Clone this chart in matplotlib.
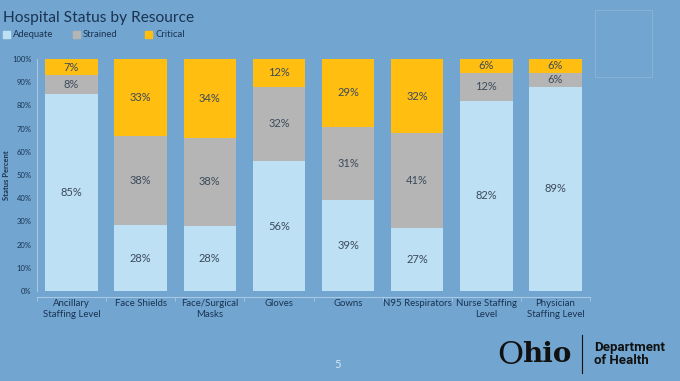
import matplotlib.pyplot as plt
import numpy as np
from matplotlib.patches import Rectangle
from matplotlib.lines import Line2D

categories = ['Ancillary\nStaffing Level', 'Face Shields', 'Face/Surgical\nMasks', 'Gloves',
              'Gowns', 'N95 Respirators', 'Nurse Staffing\nLevel', 'Physician\nStaffing Level']
adequate = [85, 28, 28, 56, 39, 27, 82, 89]
strained = [8, 38, 38, 32, 31, 41, 12, 6]
critical = [7, 33, 34, 12, 29, 32, 6, 6]
status_names = ['Adequate', 'Strained', 'Critical']
tick_labels = ['0%', '10%', '20%', '30%', '40%', '50%', '60%', '70%', '80%', '90%', '100%']

bg = '#72a5cf'
navy = '#1a3352'
label_col = '#3c4a5a'
colors = ['#bde0f4', '#b5b5b5', '#ffbe10']

plt.rcParams['font.family'] = ['Lato', 'DejaVu Sans']

fig = plt.figure(figsize=(6.8, 3.81), dpi=100, facecolor=bg)
W, H = 680, 381
ax = fig.add_axes([37 / W, 1 - 291 / H, (590 - 37) / W, (291 - 59) / H])
ax.set_facecolor(bg)

# spines first (set_position resets tick formatting)
for s in ['top', 'right']:
    ax.spines[s].set_visible(False)
ax.spines['bottom'].set_position(('outward', 4))
for s in ['left', 'bottom']:
    ax.spines[s].set_color('#a9c8e3')
    ax.spines[s].set_linewidth(0.8)

series = np.array([adequate, strained, critical], dtype=float)
totals = series.sum(axis=0)
pct = series / totals * 100
x = np.arange(len(categories))
bottom = np.zeros(len(categories))
for i in range(3):
    ax.bar(x, pct[i], 0.76, bottom=bottom, color=colors[i], linewidth=0)
    for j in range(len(categories)):
        ax.text(x[j], bottom[j] + pct[i][j] / 2, f'{int(series[i][j])}%',
                ha='center', va='center', fontsize=8, color=label_col)
    bottom += pct[i]

ax.set_xlim(-0.5, len(categories) - 0.5)
ax.set_ylim(0, 100)
ax.set_yticks(np.arange(0, 101, 10))
ax.set_yticklabels(tick_labels)
ax.set_xticks(x)
ax.set_xticklabels(categories, linespacing=1.35)
ax.tick_params(axis='y', length=0, pad=4, labelsize=5.5, labelcolor=navy)
ax.tick_params(axis='x', length=0, pad=1.5, labelsize=6.9, labelcolor=navy)
ax.set_xticks(np.arange(-0.5, len(categories)), minor=True)
ax.tick_params(axis='x', which='minor', length=3, color='#a9c8e3', width=0.6)
ax.set_ylabel('Status Percent', fontsize=5.5, color=navy, fontweight='bold')
ax.yaxis.set_label_coords(-27 / (590 - 37), 0.5)

# title and legend
fig.text(3 / W, 1 - 18 / H, 'Hospital Status by Resource', fontsize=11.2, color=navy,
         va='center', ha='left')
for k, (lx, name) in enumerate(zip([3, 73, 145], status_names)):
    fig.patches.append(Rectangle((lx / W, 1 - 37.5 / H), 6.5 / W, 6.5 / H,
                                 transform=fig.transFigure, color=colors[k]))
    fig.text((lx + 10) / W, 1 - 34.5 / H, name, fontsize=6.8, color=navy, va='center')

# decorative outline box
fig.patches.append(Rectangle((595 / W, 1 - 77 / H), 57 / W, 67 / H, transform=fig.transFigure,
                             fill=False, edgecolor='#86b2d8', linewidth=0.8))

# page number and logo
fig.text(338 / W, 1 - 365 / H, '5', fontsize=8, color='#d8e8f5', ha='center', va='center')
fig.text(497 / W, 1 - 355 / H, 'O', fontsize=23, color='#111111',
         family='DejaVu Serif', va='center', ha='left')
fig.text(522 / W, 1 - 355 / H, 'hio', fontsize=20, color='#111111', fontweight='bold',
         family='DejaVu Serif', va='center', ha='left')
fig.lines.append(Line2D([582 / W, 582 / W], [1 - 373 / H, 1 - 335 / H],
                        transform=fig.transFigure, color='#111111', linewidth=0.8))
fig.text(594 / W, 1 - 354 / H, 'Department\nof Health', fontsize=9.5, color='#111111',
         fontweight='bold', family='Roboto', va='center', ha='left', linespacing=1.0)

plt.savefig('out.png', dpi=100, facecolor=bg)
